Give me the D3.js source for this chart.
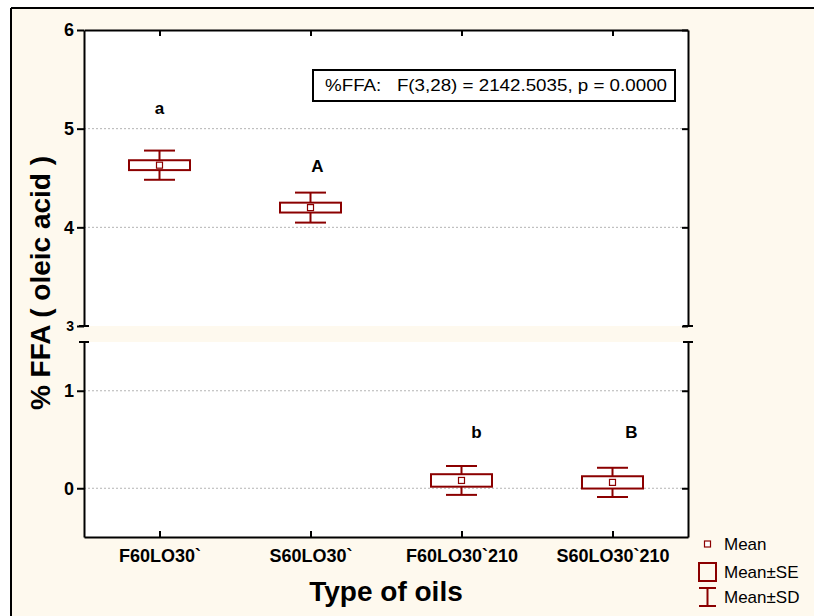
<!DOCTYPE html>
<html>
<head>
<meta charset="utf-8">
<script src="https://cdn.jsdelivr.net/npm/d3@7"></script>
<style>
  html, body { margin: 0; padding: 0; background: #ffffff; }
  svg { display: block; font-family: "Liberation Sans", Arial, sans-serif; }
</style>
</head>
<body>
<svg id="chart" width="814" height="616"></svg>
<script>
// Oil types on the x axis
const categories = ["F60LO30`", "S60LO30`", "F60LO30`210", "S60LO30`210"];
// %FFA per oil: mean, standard error, standard deviation
const means = [4.63, 4.20, 0.08, 0.06];
const stdErrors = [0.05, 0.05, 0.064, 0.063];
const stdDevs = [0.148, 0.152, 0.148, 0.15];
// Significance letters and the level they are written at
const groupLetters = ["a", "A", "b", "B"];
const letterLevels = [5.2, 4.62, 0.57, 0.57];
// Axis ticks of the upper and lower (broken) panels
const upperTicks = [3, 4, 5, 6];
const lowerTicks = [0, 1];
const upperDomain = [3, 6];
const lowerDomain = [-0.5, 1.5];
const statText = "%FFA:\u00a0\u00a0\u00a0F(3,28) = 2142.5035, p = 0.0000";

const RED = "#8b0000";
const CREAM = "#fef9ee";
const svg = d3.select("#chart");

// frame
svg.append("rect").attr("x", 11).attr("y", 8).attr("width", 820).attr("height", 620).attr("fill", CREAM);
svg.append("line").attr("x1", 11).attr("x2", 814).attr("y1", 8).attr("y2", 8).attr("stroke", "#000").attr("stroke-width", 2);
svg.append("line").attr("x1", 11).attr("x2", 11).attr("y1", 8).attr("y2", 616).attr("stroke", "#000").attr("stroke-width", 2);

const left = 84, right = 688;
const x = d3.scalePoint().domain(categories).range([left, right]).padding(0.5);
const yTop = d3.scaleLinear().domain(upperDomain).range([326, 30]);
const yBot = d3.scaleLinear().domain(lowerDomain).range([537, 342]);

const panels = [
  { y: yTop, ticks: upperTicks, grid: [4, 5] },
  { y: yBot, ticks: lowerTicks, grid: [0, 1] }
];

panels.forEach(p => {
  const [y0, y1] = p.y.range();
  svg.append("rect").attr("x", left).attr("y", y1).attr("width", right - left).attr("height", y0 - y1).attr("fill", "#fff");
  svg.append("g").selectAll("line").data(p.grid).join("line")
    .attr("x1", left).attr("x2", right)
    .attr("y1", d => p.y(d)).attr("y2", d => p.y(d))
    .attr("stroke", "#b4b4b4").attr("stroke-width", 1).attr("stroke-dasharray", "2,2");

  const gl = svg.append("g").attr("transform", `translate(${left},0)`)
    .call(d3.axisLeft(p.y).tickValues(p.ticks).tickSize(7).tickSizeOuter(0).tickPadding(3).tickFormat(d3.format("d")));
  const gr = svg.append("g").attr("transform", `translate(${right},0)`)
    .call(d3.axisRight(p.y).tickValues(p.ticks).tickSize(-6).tickSizeOuter(0).tickFormat(""));
  [gl, gr].forEach(g => {
    g.select(".domain").attr("stroke", "#000").attr("stroke-width", 2);
    g.selectAll(".tick line").attr("stroke", "#000").attr("stroke-width", 2);
    g.selectAll(".tick text").attr("fill", "#000").attr("font-size", 18).attr("font-weight", "bold")
      .attr("font-family", "Liberation Sans, Arial, sans-serif");
  });
  // break caps on both side axes
  [left, right].forEach(ax => {
    svg.append("line").attr("x1", ax - 5).attr("x2", ax + 5)
      .attr("y1", p === panels[0] ? y0 : y1).attr("y2", p === panels[0] ? y0 : y1)
      .attr("stroke", "#000").attr("stroke-width", 2);
  });
});
svg.selectAll(".tick text").filter(d => d === 3).attr("font-size", 14);

// top and bottom borders with inward category ticks
const gt = svg.append("g").attr("transform", `translate(0,${yTop.range()[1]})`)
  .call(d3.axisTop(x).tickSize(-6).tickSizeOuter(0).tickFormat(""));
const gb = svg.append("g").attr("transform", `translate(0,${yBot.range()[0]})`)
  .call(d3.axisBottom(x).tickSize(-6).tickSizeOuter(0).tickPadding(12));
[gt, gb].forEach(g => {
  g.select(".domain").attr("stroke", "#000").attr("stroke-width", 2);
  g.selectAll(".tick line").attr("stroke", "#000").attr("stroke-width", 2);
});
gb.selectAll(".tick text").attr("fill", "#000").attr("font-size", 18).attr("font-weight", "bold")
  .attr("font-family", "Liberation Sans, Arial, sans-serif");

// boxes: mean ± SE box, mean ± SD whiskers, mean marker
const yFor = v => (v >= 2 ? yTop(v) : yBot(v));
const boxW = 61, capW = 31, markW = 6;
const rows = categories.map((c, i) => ({ c, m: means[i], se: stdErrors[i], sd: stdDevs[i] }));
const gBox = svg.append("g").attr("stroke", RED).attr("stroke-width", 2).attr("fill", "none");
rows.forEach(r => {
  const cx = x(r.c);
  const g = gBox.append("g");
  g.append("line").attr("x1", cx).attr("x2", cx).attr("y1", yFor(r.m + r.sd)).attr("y2", yFor(r.m - r.sd));
  g.append("line").attr("x1", cx - capW / 2).attr("x2", cx + capW / 2).attr("y1", yFor(r.m + r.sd)).attr("y2", yFor(r.m + r.sd));
  g.append("line").attr("x1", cx - capW / 2).attr("x2", cx + capW / 2).attr("y1", yFor(r.m - r.sd)).attr("y2", yFor(r.m - r.sd));
  g.append("rect").attr("x", cx - boxW / 2).attr("width", boxW)
    .attr("y", yFor(r.m + r.se)).attr("height", yFor(r.m - r.se) - yFor(r.m + r.se)).attr("fill", "#fff");
  g.append("rect").attr("x", cx - markW / 2).attr("y", yFor(r.m) - markW / 2).attr("width", markW).attr("height", markW)
    .attr("fill", "#fff").attr("stroke-width", 1.2);
});

// significance letters
const letterShift = [0, 7, 15, 19];
svg.append("g").selectAll("text").data(groupLetters).join("text")
  .attr("x", (d, i) => x(categories[i]) + letterShift[i])
  .attr("y", (d, i) => yFor(letterLevels[i]))
  .attr("dominant-baseline", "central").attr("text-anchor", "middle")
  .attr("font-size", 17).attr("font-weight", "bold").attr("fill", "#000")
  .text(d => d);

// ANOVA result box
svg.append("rect").attr("x", 313).attr("y", 70).attr("width", 362).attr("height", 31)
  .attr("fill", "#fff").attr("stroke", "#000").attr("stroke-width", 2);
svg.append("text").attr("x", 325).attr("y", 91).attr("font-size", 16).attr("fill", "#000")
  .attr("textLength", 342).attr("lengthAdjust", "spacingAndGlyphs").text(statText);

// axis titles
svg.append("text").attr("x", 386).attr("y", 601).attr("text-anchor", "middle")
  .attr("font-size", 28).attr("font-weight", "bold").text("Type of oils");
svg.append("text").attr("transform", "translate(50,283) rotate(-90)").attr("text-anchor", "middle")
  .attr("font-size", 28).attr("font-weight", "bold").text("% FFA ( oleic acid )");

// legend
const lg = svg.append("g");
lg.append("rect").attr("x", 704.5).attr("y", 541).attr("width", 6).attr("height", 6)
  .attr("fill", "#fff").attr("stroke", RED).attr("stroke-width", 1.2);
lg.append("rect").attr("x", 699).attr("y", 563).attr("width", 17).attr("height", 18)
  .attr("fill", "none").attr("stroke", RED).attr("stroke-width", 2);
lg.append("line").attr("x1", 707.5).attr("x2", 707.5).attr("y1", 588).attr("y2", 606).attr("stroke", RED).attr("stroke-width", 2);
lg.append("line").attr("x1", 699).attr("x2", 716).attr("y1", 588).attr("y2", 588).attr("stroke", RED).attr("stroke-width", 2);
lg.append("line").attr("x1", 699).attr("x2", 716).attr("y1", 606).attr("y2", 606).attr("stroke", RED).attr("stroke-width", 2);
["Mean", "Mean±SE", "Mean±SD"].forEach((t, i) => {
  lg.append("text").attr("x", 724).attr("y", [550, 578, 603][i]).attr("font-size", 17).attr("fill", "#000").text(t);
});
</script>
</body>
</html>
